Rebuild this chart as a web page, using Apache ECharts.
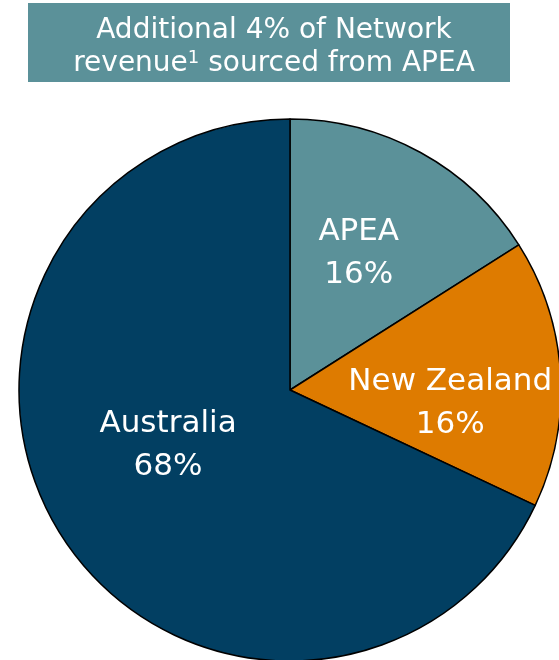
<!DOCTYPE html>
<html>
<head>
<meta charset="utf-8">
<script src="https://cdn.jsdelivr.net/npm/echarts@6/dist/echarts.min.js"></script>
<style>
  html, body { margin: 0; padding: 0; background: #fff; }
  #chart { width: 559px; height: 660px; }
</style>
</head>
<body>
<div id="chart"></div>
<script>
// 数据
var regions = ['APEA', 'New Zealand', 'Australia'];
var shares = [16, 16, 68];
var sliceColors = ['#5b9199', '#de7b00', '#023f62'];
// 标签微调 (相对默认 inside 位置)
var labelShift = [[2, -15], [22, 22], [-5, -19]];

var chart = echarts.init(document.getElementById('chart'));

var option = {
    animation: false,
    graphic: [{
        type: 'rect',
        left: 28,
        top: 3,
        shape: { width: 482, height: 79 },
        style: { fill: '#5b9199' },
        z: 0
    }],
    title: {
        text: 'Additional 4% of Network\nrevenue{sup|1} sourced from APEA',
        left: 269,
        top: 9,
        textAlign: 'center',
        textStyle: {
            color: '#ffffff',
            fontFamily: 'DejaVu Sans',
            fontWeight: 'normal',
            fontSize: 28,
            lineHeight: 33,
            rich: {
                sup: {
                    color: '#ffffff',
                    fontFamily: 'DejaVu Sans',
                    fontSize: 18,
                    lineHeight: 33,
                    padding: [0, 0, 10, 0]
                }
            }
        }
    },
    series: [{
        type: 'pie',
        center: [290, 390],
        radius: 271,
        startAngle: 90,
        clockwise: true,
        itemStyle: {
            borderColor: '#000000',
            borderWidth: 1.5
        },
        label: {
            show: true,
            position: 'inside',
            color: '#ffffff',
            fontFamily: 'DejaVu Sans',
            fontSize: 31,
            lineHeight: 43,
            align: 'center',
            formatter: function (p) {
                return p.name + '\n' + p.value + '%';
            }
        },
        labelLine: { show: false },
        labelLayout: function (params) {
            var s = labelShift[params.dataIndex];
            return { dx: s[0], dy: s[1] };
        },
        data: regions.map(function (name, i) {
            return { name: name, value: shares[i], itemStyle: { color: sliceColors[i] } };
        })
    }]
};

chart.setOption(option);
</script>
</body>
</html>
